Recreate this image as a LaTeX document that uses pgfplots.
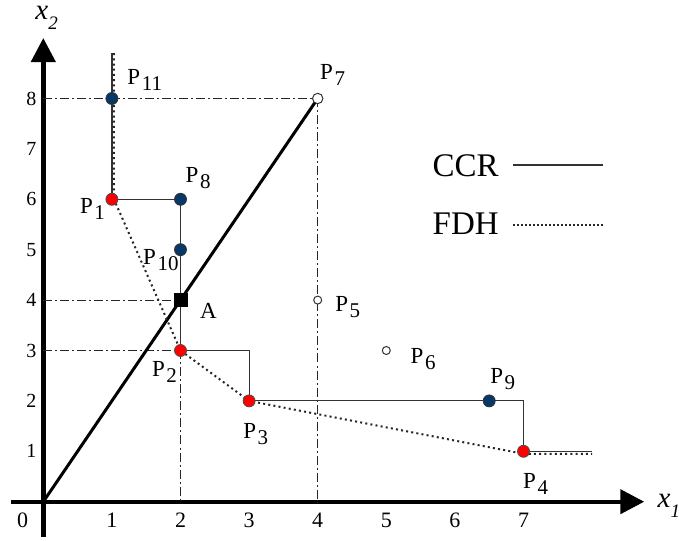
\documentclass[border=0pt]{standalone}
\usepackage{pgfplots}
\pgfplotsset{compat=1.18}
\usepackage{fontspec}
\setmainfont{Liberation Serif}
\usetikzlibrary{arrows.meta}

\definecolor{navy}{RGB}{8,56,104}
\definecolor{ptred}{RGB}{255,0,0}

% point label: P with a lowered index
\newcommand{\lbl}[2]{#1\kern0.8pt\raisebox{-3pt}{\fontsize{10.5}{11}\selectfont #2}}

\tikzset{
  guide/.style={line width=0.5pt, black!85, dash pattern=on 4.5pt off 1.5pt on 1pt off 1.5pt},
  stair/.style={line width=0.6pt, black!80},
  dots/.style={line width=1pt, black!85, dash pattern=on 1pt off 1.6pt},
  plbl/.style={anchor=base west, inner sep=0pt, font=\fontsize{11.5}{13}\selectfont},
}

\begin{document}
\begin{tikzpicture}
\begin{axis}[
  x=34.3pt, y=25.2pt,
  xmin=-0.47, xmax=8.76, ymin=-0.71, ymax=9.2,
  axis lines=middle,
  axis line style={line width=2.2pt, -{Triangle[length=12pt,width=12pt]}},
  xtick={1,...,7}, ytick={1,...,8},
  major tick length=0pt,
  xticklabel style={anchor=center, yshift=-9.5pt, font=\fontsize{11}{13}\selectfont},
  yticklabel style={anchor=center, xshift=-6pt, font=\fontsize{10}{12}\selectfont},
  /pgf/number format/assume math mode=true,
  clip=false,
]
\coordinate (O) at (axis cs:0,0);

% dash-dot projection lines
\addplot[guide] coordinates {(0,8) (4,8)};
\addplot[guide] coordinates {(4,8) (4,0)};
\addplot[guide] coordinates {(0,4) (2,4)};
\addplot[guide] coordinates {(0,3) (2,3)};
\addplot[guide] coordinates {(2,3) (2,0)};

% CCR ray through the origin
\addplot[line width=1.5pt, black] coordinates {(0,0) (4,8)};

% staircase frontier
\addplot[stair] coordinates {(1,8.9) (1,6) (2,6) (2,3) (3,3) (3,2) (7,2) (7,1) (8,1)};

% dotted frontier
\addplot[dots] coordinates {(1.03,8.9) (1.03,6) (2,3) (3,2) (7,0.95) (8,0.95)};

% legend samples
\addplot[stair] coordinates {(6.85,6.68) (8.16,6.68)};
\addplot[line width=0.8pt, black!85, dash pattern=on 0.8pt off 1.2pt] coordinates {(6.85,5.49) (8.16,5.49)};

% points
\addplot[only marks, mark=*, mark size=3pt, mark options={fill=ptred, draw=black!70, line width=0.4pt}]
  coordinates {(1,6) (2,3) (3,2) (7,1)};
\addplot[only marks, mark=*, mark size=3pt, mark options={fill=navy, draw=black!80, line width=0.4pt}]
  coordinates {(2,6) (2,5) (6.5,2) (1,8)};
\addplot[only marks, mark=*, mark size=2.6pt, mark options={fill=white, draw=black!80, line width=0.5pt}]
  coordinates {(4,8)};
\addplot[only marks, mark=*, mark size=2pt, mark options={fill=white, draw=black!80, line width=0.5pt}]
  coordinates {(4,4) (5,3)};
\addplot[only marks, mark=square*, mark size=3.2pt, mark options={fill=black, draw=black}]
  coordinates {(2,4)};

% labels
\node[plbl] at (axis cs:1.22,8.27) {\lbl{P}{11}};
\node[plbl] at (axis cs:4.03,8.37) {\lbl{P}{7}};
\node[plbl] at (axis cs:2.07,6.34) {\lbl{P}{8}};
\node[plbl] at (axis cs:0.53,5.72) {\lbl{P}{1}};
\node[plbl] at (axis cs:1.45,4.70) {\lbl{P}{10}};
\node[plbl] at (axis cs:2.28,3.64) {A};
\node[plbl] at (axis cs:1.58,2.48) {\lbl{P}{2}};
\node[plbl] at (axis cs:2.91,1.26) {\lbl{P}{3}};
\node[plbl] at (axis cs:6.99,0.27) {\lbl{P}{4}};
\node[plbl] at (axis cs:6.51,2.34) {\lbl{P}{9}};
\node[plbl] at (axis cs:4.25,3.78) {\lbl{P}{5}};
\node[plbl] at (axis cs:5.35,2.75) {\lbl{P}{6}};

\node[anchor=base west, inner sep=0pt, font=\fontsize{16.5}{18}\selectfont] at (axis cs:5.67,6.46) {CCR};
\node[anchor=base west, inner sep=0pt, font=\fontsize{16.5}{18}\selectfont] at (axis cs:5.67,5.31) {FDH};

\node[anchor=center, inner sep=0pt, font=\fontsize{11}{13}\selectfont] at (axis cs:-0.3,-0.37) {0};
\node[anchor=base west, inner sep=0pt, font=\fontsize{14.5}{16}\selectfont] at (axis cs:-0.12,9.56)
  {\textit{x}\raisebox{-5pt}{\fontsize{9.5}{10}\selectfont\itshape 2}};
\node[anchor=base west, inner sep=0pt, font=\fontsize{14.5}{16}\selectfont] at (axis cs:8.95,-0.12)
  {\textit{x}\raisebox{-5pt}{\fontsize{9.5}{10}\selectfont\itshape 1}};
\end{axis}
\pgfresetboundingbox
\path[use as bounding box] ([xshift=-21.65pt,yshift=-19.15pt]O) rectangle ([xshift=317.85pt,yshift=250.85pt]O);
\end{tikzpicture}
\end{document}
